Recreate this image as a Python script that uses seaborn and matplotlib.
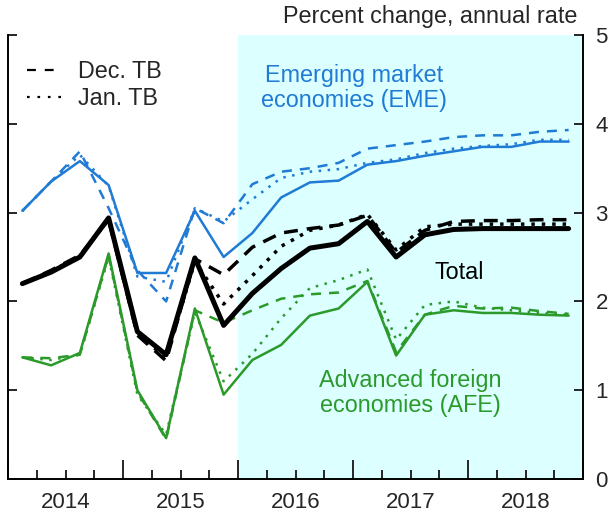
"""Global growth outlook: total, EME and AFE, current vs. Dec. and Jan. TB."""
import matplotlib
matplotlib.use("Agg")
import matplotlib.pyplot as plt
from matplotlib.lines import Line2D
from matplotlib.ticker import FixedLocator, FixedFormatter
import seaborn as sns

sns.set_style("ticks")
plt.rcParams["font.family"] = ["Liberation Sans", "DejaVu Sans"]

# quarters 2014Q1 .. 2018Q4
quarters = [f"{y}Q{q}" for y in range(2014, 2019) for q in range(1, 5)]
years = [2014, 2015, 2016, 2017, 2018]

eme_cur = [3.02, 3.35, 3.58, 3.31, 2.32, 2.32, 3.02, 2.50, 2.77, 3.17,
           3.34, 3.36, 3.54, 3.58, 3.64, 3.69, 3.74, 3.74, 3.80, 3.80]
eme_dec = [3.02, 3.35, 3.69, 3.05, 2.35, 2.00, 3.05, 2.88, 3.32, 3.46,
           3.50, 3.56, 3.72, 3.76, 3.80, 3.85, 3.87, 3.87, 3.91, 3.93]
eme_jan = [3.02, 3.35, 3.65, 3.30, 2.28, 2.22, 3.05, 2.90, 3.15, 3.39,
           3.46, 3.49, 3.56, 3.60, 3.67, 3.72, 3.75, 3.77, 3.82, 3.82]

tot_cur = [2.20, 2.33, 2.50, 2.94, 1.66, 1.40, 2.49, 1.73, 2.09, 2.37,
           2.60, 2.65, 2.90, 2.50, 2.75, 2.81, 2.82, 2.82, 2.82, 2.82]
tot_dec = [2.20, 2.35, 2.52, 2.92, 1.62, 1.33, 2.48, 2.30, 2.61, 2.77,
           2.82, 2.86, 2.97, 2.55, 2.80, 2.90, 2.91, 2.91, 2.92, 2.92]
tot_jan = [2.20, 2.34, 2.51, 2.92, 1.64, 1.36, 2.45, 1.97, 2.29, 2.62,
           2.80, 2.86, 2.98, 2.58, 2.84, 2.87, 2.87, 2.87, 2.87, 2.87]

afe_cur = [1.37, 1.28, 1.42, 2.54, 1.00, 0.46, 1.92, 0.95, 1.34, 1.51,
           1.84, 1.92, 2.22, 1.39, 1.85, 1.90, 1.87, 1.87, 1.85, 1.84]
afe_dec = [1.37, 1.36, 1.40, 2.52, 0.98, 0.45, 1.90, 1.76, 1.90, 2.03,
           2.08, 2.10, 2.23, 1.43, 1.85, 1.95, 1.92, 1.93, 1.89, 1.86]
afe_jan = [1.37, 1.34, 1.40, 2.50, 0.95, 0.50, 1.88, 1.10, 1.41, 1.81,
           2.15, 2.24, 2.36, 1.57, 1.96, 2.00, 1.93, 1.90, 1.87, 1.85]

BLUE = "#1f7bd4"
GREEN = "#2b9a2b"
SHADE = "#dcffff"
FS = 16.8
TICK_FS = 16

# quarter midpoints in decimal years
x = [int(q[:4]) + (int(q[-1]) - 0.5) / 4 for q in quarters]

fig, ax = plt.subplots(figsize=(6.12, 5.16), dpi=100)
fig.subplots_adjust(left=8 / 612, right=583 / 612, bottom=1 - 479 / 516, top=1 - 35 / 516)

ax.axvspan(2016, 2019, color=SHADE, lw=0, zorder=0)

dash = (4, 3.2)
dot = (1, 2.6)
series = [
    (afe_dec, GREEN, 1.8, dash), (afe_jan, GREEN, 1.8, dot), (afe_cur, GREEN, 1.8, None),
    (eme_dec, BLUE, 1.8, dash), (eme_jan, BLUE, 1.8, dot), (eme_cur, BLUE, 1.8, None),
    (tot_dec, "black", 2.5, (4, 2.6)), (tot_jan, "black", 2.5, (1, 2.0)), (tot_cur, "black", 3.6, None),
]
for vals, col, lw, ls in series:
    kw = {"dashes": ls} if ls else {}
    sns.lineplot(x=x, y=vals, ax=ax, color=col, lw=lw, **kw)

ax.set_xlim(2014, 2019)
ax.set_ylim(0, 5)

# x axis: years as major ticks, quarters as minor ticks, labels mid-year
ax.xaxis.set_major_locator(FixedLocator(years + [2019]))
ax.xaxis.set_major_formatter(FixedFormatter([""] * 6))
qticks = [y + k / 4 for y in years for k in (1, 2, 3)]
ax.xaxis.set_minor_locator(FixedLocator(qticks))
ax.xaxis.set_minor_formatter(FixedFormatter([str(int(t)) if k == 2 else "" for t, k in
                                             zip(qticks, [1, 2, 3] * 5)]))
ax.tick_params(axis="x", which="major", direction="in", length=13.5, width=1.4, labelsize=TICK_FS)
ax.tick_params(axis="x", which="minor", direction="in", length=6.5, width=1.4, labelsize=TICK_FS, pad=9)

ax.set_yticks([0, 1, 2, 3, 4, 5])
ax.yaxis.set_minor_locator(FixedLocator([5]))
ax.tick_params(axis="y", which="both", left=True, right=True, labelleft=False, labelright=True,
               direction="in", width=1.4, labelsize=TICK_FS, pad=9)
ax.tick_params(axis="y", which="major", length=6.5)
ax.tick_params(axis="y", which="minor", length=13, labelright=False)

for side in ["left", "right", "bottom"]:
    ax.spines[side].set_linewidth(1.4)
    ax.spines[side].set_color("black")
ax.spines["top"].set_visible(False)
ax.set_xlabel("")
ax.set_ylabel("")

ax.text(0.991, 1.028, "Percent change, annual rate", transform=ax.transAxes,
        ha="right", va="baseline", fontsize=FS)

ax.text(2017.01, 4.40, "Emerging market\neconomies (EME)", color=BLUE, fontsize=FS,
        ha="center", va="center", linespacing=1.1)
ax.text(2017.92, 2.32, "Total", color="black", fontsize=FS, ha="center", va="center")
ax.text(2017.50, 0.97, "Advanced foreign\neconomies (AFE)", color=GREEN, fontsize=FS,
        ha="center", va="center", linespacing=1.1)

handles = [Line2D([], [], color="black", lw=1.6, dashes=(4, 4)),
           Line2D([], [], color="black", lw=1.6, dashes=(1.2, 3.5))]
ax.legend(handles, ["Dec. TB", "Jan. TB"], loc="upper left", bbox_to_anchor=(0.033, 0.943),
          frameon=False, fontsize=FS, handlelength=1.45, handletextpad=0.75,
          labelspacing=0.15, borderpad=0, borderaxespad=0)

fig.savefig("out.png", dpi=100)
